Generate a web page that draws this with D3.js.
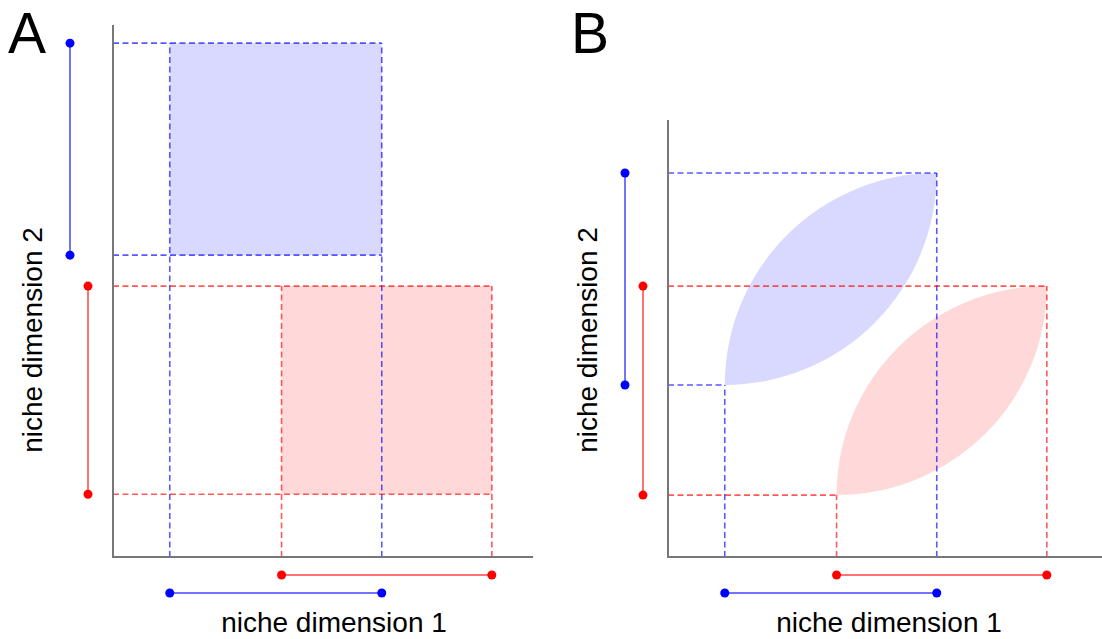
<!DOCTYPE html>
<html>
<head>
<meta charset="utf-8">
<script src="https://cdn.jsdelivr.net/npm/d3@7"></script>
<style>
    body { margin: 0; background: #fff; }
    text { font-family: "Liberation Sans", Arial, sans-serif; fill: #000; }
</style>
</head>
<body>
<div id="chart"></div>
<script>
// niche extents of the two species (data units)
let species = ["blue", "red"];
let dim1 = [[13.2, 62.5], [39.2, 88.1]];      // niche dimension 1, same in A and B
let dim2A = [[70.2, 119.5], [14.6, 63.0]];    // niche dimension 2, panel A
let dim2B = [[40.0, 89.3], [14.4, 63.0]];     // niche dimension 2, panel B
let panelLabels = ["A", "B"];
let xLabel = "niche dimension 1";
let yLabel = "niche dimension 2";

let svg = d3.select("#chart").append("svg")
    .attr("width", 1102)
    .attr("height", 639);

let color = d3.scaleOrdinal().domain(species).range(["#0000ff", "#ff0000"]);

class NichePanel {

    constructor(svg, config) {
        this.svg = svg;
        this.config = config;
        this.initVis();
    }

    initVis() {
        let vis = this;
        let c = vis.config;

        // 4.3 px per niche unit in both panels
        vis.x = d3.scaleLinear().domain([0, c.xMax]).range([c.left, c.left + c.xMax * 4.3]);
        vis.y = d3.scaleLinear().domain([0, c.yMax]).range([c.bottom, c.bottom - c.yMax * 4.3]);

        vis.g = vis.svg.append("g");

        vis.data = species.map((s, i) => ({ sp: s, x: dim1[i], y: c.dim2[i] }));

        vis.updateVis();
    }

    updateVis() {
        let vis = this;
        let c = vis.config;
        let x = vis.x, y = vis.y;

        // (1) niche shapes
        vis.g.selectAll(".niche")
            .data(vis.data)
            .join("path")
            .attr("class", "niche")
            .attr("fill", d => color(d.sp))
            .attr("fill-opacity", 0.15)
            .attr("d", d => {
                let x0 = x(d.x[0]), x1 = x(d.x[1]), y0 = y(d.y[0]), y1 = y(d.y[1]);
                if (c.shape == "rect") {
                    return `M${x0},${y0}H${x1}V${y1}H${x0}Z`;
                }
                let rx = x1 - x0, ry = y0 - y1;
                return `M${x0},${y0}A${rx},${ry} 0 0 1 ${x1},${y1}A${rx},${ry} 0 0 1 ${x0},${y0}Z`;
            });

        // (2) dashed guides to the axes
        let guides = [];
        vis.data.forEach(d => {
            let full = c.shape == "rect";
            guides.push({ sp: d.sp, x1: x(0), x2: x(d.x[1]), y1: y(d.y[1]), y2: y(d.y[1]) });
            guides.push({ sp: d.sp, x1: x(0), x2: full ? x(d.x[1]) : x(d.x[0]), y1: y(d.y[0]), y2: y(d.y[0]) });
            guides.push({ sp: d.sp, x1: x(d.x[0]), x2: x(d.x[0]), y1: y(0), y2: full ? y(d.y[1]) : y(d.y[0]) });
            guides.push({ sp: d.sp, x1: x(d.x[1]), x2: x(d.x[1]), y1: y(0), y2: y(d.y[1]) });
        });

        vis.g.selectAll(".guide")
            .data(guides)
            .join("line")
            .attr("class", "guide")
            .attr("x1", d => d.x1).attr("x2", d => d.x2)
            .attr("y1", d => d.y1).attr("y2", d => d.y2)
            .attr("stroke", d => color(d.sp))
            .attr("stroke-opacity", 0.65)
            .attr("stroke-width", 1.6)
            .attr("stroke-dasharray", "6,3.5");

        // (3) axes
        vis.g.append("path")
            .attr("d", `M${x(0)},${y(c.yMax)}V${y(0)}H${x(c.xMax)}`)
            .attr("fill", "none")
            .attr("stroke", "#777")
            .attr("stroke-width", 2);

        // (4) range bars along each axis
        let vOff = { blue: -43, red: -25 };
        let hOff = { blue: 36, red: 18 };

        let vBars = vis.g.selectAll(".vbar")
            .data(vis.data)
            .join("g")
            .attr("class", "vbar")
            .attr("transform", d => `translate(${x(0) + vOff[d.sp]},0)`);
        vBars.append("line")
            .attr("y1", d => y(d.y[0])).attr("y2", d => y(d.y[1]))
            .attr("stroke", d => color(d.sp))
            .attr("stroke-opacity", 0.55)
            .attr("stroke-width", 2);
        vBars.selectAll("circle")
            .data(d => d.y.map(v => ({ sp: d.sp, v: v })))
            .join("circle")
            .attr("cy", d => y(d.v))
            .attr("r", 4.5)
            .attr("fill", d => color(d.sp));

        let hBars = vis.g.selectAll(".hbar")
            .data(vis.data)
            .join("g")
            .attr("class", "hbar")
            .attr("transform", d => `translate(0,${y(0) + hOff[d.sp]})`);
        hBars.append("line")
            .attr("x1", d => x(d.x[0])).attr("x2", d => x(d.x[1]))
            .attr("stroke", d => color(d.sp))
            .attr("stroke-opacity", 0.55)
            .attr("stroke-width", 2);
        hBars.selectAll("circle")
            .data(d => d.x.map(v => ({ sp: d.sp, v: v })))
            .join("circle")
            .attr("cx", d => x(d.v))
            .attr("r", 4.5)
            .attr("fill", d => color(d.sp));

        // (5) labels
        vis.g.append("text")
            .attr("x", c.left + 221)
            .attr("y", 632)
            .attr("text-anchor", "middle")
            .style("font-size", "28px")
            .text(xLabel);

        vis.g.append("text")
            .attr("transform", `translate(${c.left - 71},340) rotate(-90)`)
            .attr("text-anchor", "middle")
            .style("font-size", "28px")
            .text(yLabel);

        vis.g.append("text")
            .attr("x", c.letterX)
            .attr("y", 53)
            .style("font-size", "57px")
            .text(c.letter);
    }
}

new NichePanel(svg, { letter: panelLabels[0], letterX: 8, left: 113, bottom: 557, xMax: 97.7, yMax: 123.7, dim2: dim2A, shape: "rect" });
new NichePanel(svg, { letter: panelLabels[1], letterX: 571, left: 668, bottom: 557, xMax: 101, yMax: 101.6, dim2: dim2B, shape: "leaf" });
</script>
</body>
</html>
